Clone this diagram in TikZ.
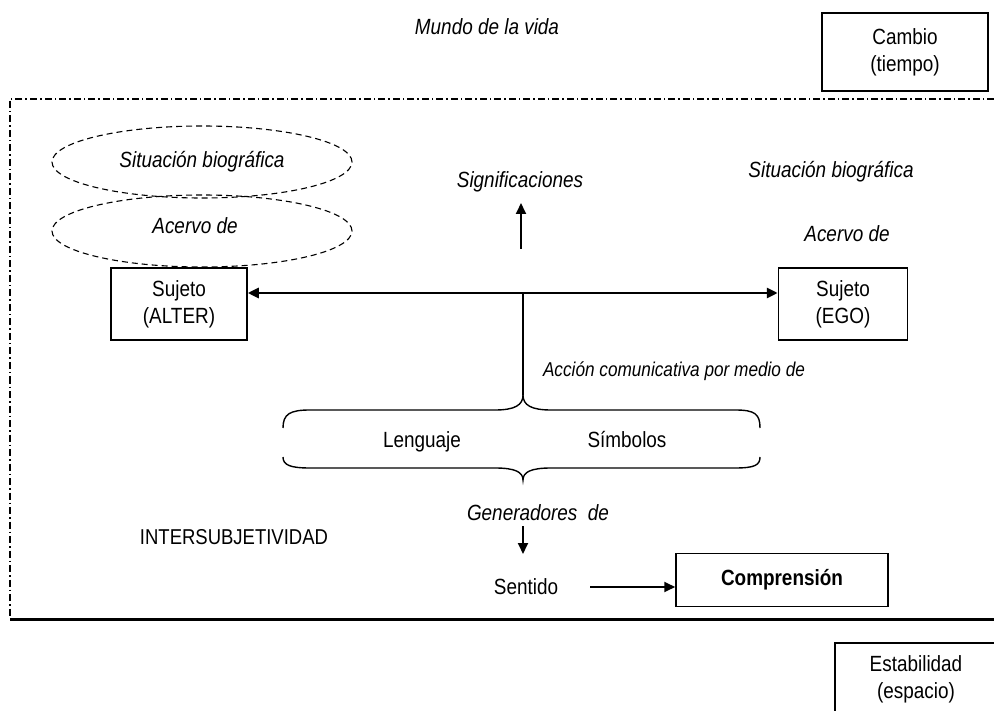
\documentclass[tikz,border=0pt]{standalone}
\usepackage{fontspec}
\setmainfont[FakeStretch=0.86]{Liberation Sans}
\usetikzlibrary{arrows.meta,shapes.geometric}
\begin{document}
\begin{tikzpicture}[x=1pt,y=-1pt,
  txt/.style={font=\fontsize{22}{27}\selectfont, inner sep=0pt, align=center, text height=18pt, text depth=3pt},
  itxt/.style={font=\fontsize{22}{27}\selectfont\itshape, inner sep=0pt, align=center, text height=18pt, text depth=3pt},
  ttxt/.style={font=\fontsize{22}{27}\selectfont, inner sep=0pt, align=center},
  box/.style={draw, line width=1.5pt, rectangle, inner sep=0pt, align=center, font=\fontsize{22}{27}\selectfont},
  oval/.style={draw, dashed, dash pattern=on 6pt off 4pt, line width=1.1pt, ellipse, inner sep=0pt,
    minimum width=300pt, minimum height=72pt, font=\fontsize{22}{27}\selectfont\itshape},
  tip/.style={-{Triangle[length=11pt,width=10pt]}},
  frame/.style={line width=1.3pt, dash pattern=on 7pt off 3pt on 1.5pt off 3pt}
]
\useasboundingbox (0,0) rectangle (994,711);
\fill[white] (0,0) rectangle (994,711);

% frame
\coordinate (ftr) at (994,99);
\coordinate (ftl) at (10,99);
\coordinate (fbl) at (10,618);
\draw[frame] (ftr) -- (ftl) -- (fbl);
\coordinate (bl) at (10,619);
\coordinate (br) at (994,619);
\draw[line width=3pt] (bl) -- (br);

% top
\node[itxt] (mundo) at (487,27) {Mundo de la vida};
\node[box, minimum width=166pt, minimum height=78pt] (cambio) at (905,52) {Cambio\\(tiempo)};
\node[box, minimum width=170pt, minimum height=80pt, anchor=north west] (estab) at (834,642) {};
\node[ttxt] (estabt) at (916,679) {Estabilidad\\(espacio)};

% ellipses
\node[oval] (sit) at (202,162) {Situación biográfica};
\node[oval] (acv) at (202,231) {};
\node[itxt] (acvt) at (195,226) {Acervo de};

% subjects
\node[box, minimum width=136pt, minimum height=72pt] (alter) at (179,304) {Sujeto\\(ALTER)};
\node[box, minimum width=129pt, minimum height=72pt] (ego) at (843,304) {Sujeto\\(EGO)};
\draw[line width=2.8pt, {Triangle[length=11pt,width=10pt]}-{Triangle[length=11pt,width=10pt]}] (alter.east |- 0,293) -- (ego.west |- 0,293);

\node[itxt] (sitr) at (831,170) {Situación biográfica};
\node[itxt] (acvr) at (847,234) {Acervo de};

% significaciones
\node[itxt] (sig) at (520,180) {Significaciones};
\coordinate (sigs) at (521,249);
\coordinate (sige) at (521,203);
\draw[line width=1.8pt, tip] (sigs) -- (sige);

% vertical stem to brace
\coordinate (mid) at (523,293);
\coordinate (btip) at (523,395);
\draw[line width=1.4pt] (mid) -- (btip);

\node[itxt, font=\fontsize{20}{24}\selectfont\itshape] (accion) at (674,369) {Acción comunicativa por medio de};

% braces
\draw[line width=1.4pt] (283,428) .. controls (283,414) and (290,410) .. (310,410) -- (495,410)
   .. controls (515,410) and (523,405) .. (btip)
   .. controls (523,405) and (531,410) .. (551,410) -- (735,410)
   .. controls (755,410) and (760,414) .. (760,428);
\coordinate (btip2) at (523,480);
\draw[line width=1.4pt] (283,457) .. controls (283,465) and (290,468) .. (310,468) -- (495,468)
   .. controls (515,468) and (523,472) .. (btip2)
   .. controls (523,472) and (531,468) .. (551,468) -- (735,468)
   .. controls (755,468) and (760,465) .. (760,457);

\node[txt] (leng) at (422,440) {Lenguaje};
\node[txt] (simb) at (627,440) {Símbolos};

\node[itxt] (gen) at (538,513) {Generadores\ \ de};
\coordinate (gens) at (523,526);
\coordinate (gene) at (523,554);
\draw[line width=1.8pt, tip] (gens) -- (gene);

\node[txt] (sent) at (526,587) {Sentido};
\node[box, minimum width=212pt, minimum height=53pt, font=\fontsize{22}{27}\selectfont\bfseries] (comp) at (782,580) {Comprensión};
\draw[line width=1.8pt, tip] (590,587) -- (comp.west |- 0,587);

\node[txt, font=\fontsize{21.5}{27}\selectfont] (inter) at (234,537) {INTERSUBJETIVIDAD};
\end{tikzpicture}
\end{document}
